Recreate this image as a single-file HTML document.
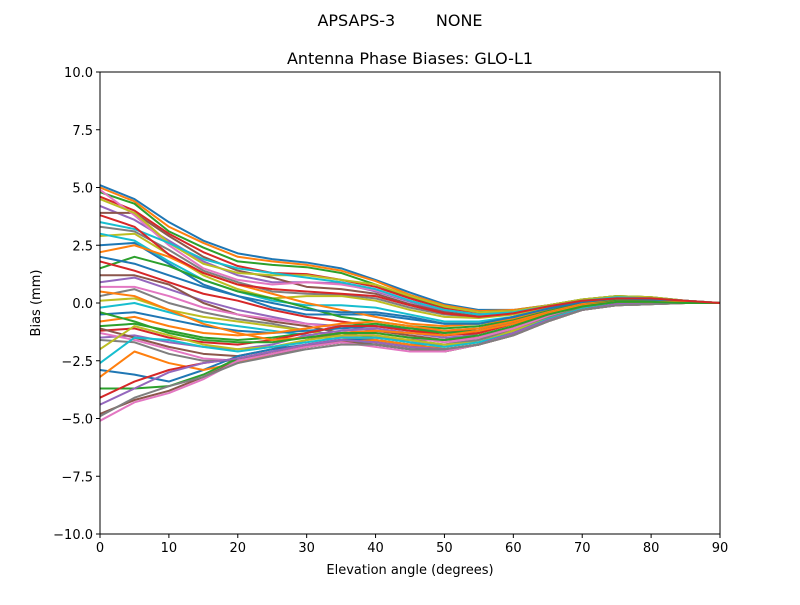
<!DOCTYPE html>
<html><head><meta charset="utf-8"><style>
body{margin:0;background:#fff;font-family:"Liberation Sans","DejaVu Sans",sans-serif}
svg text{font-family:"DejaVu Sans","Liberation Sans",sans-serif}
</style></head><body>
<svg id="chart" width="800" height="600" xmlns="http://www.w3.org/2000/svg">
<rect width="800" height="600" fill="#fff"/>
<text x="400" y="26" text-anchor="middle" font-size="16" xml:space="preserve">APSAPS-3        NONE</text>
<text x="410" y="64" text-anchor="middle" font-size="16">Antenna Phase Biases: GLO-L1</text>
<g id="lines"></g>
<rect x="100" y="72" width="620" height="462" fill="none" stroke="#000" stroke-width="1"/>
<g id="axes"></g>
<text x="410" y="574" text-anchor="middle" font-size="13">Elevation angle (degrees)</text>
<text transform="translate(40,303) rotate(-90)" text-anchor="middle" font-size="13">Bias (mm)</text>
</svg>
<script>
const elevations=[0,5,10,15,20,25,30,35,40,45,50,55,60,65,70,75,80,85,90];
const xTicks=[0,10,20,30,40,50,60,70,80,90];
const yTicks=[10,7.5,5,2.5,0,-2.5,-5,-7.5,-10];
const yTickLabels=["10.0","7.5","5.0","2.5","0.0","\u22122.5","\u22125.0","\u22127.5","\u221210.0"];
const series=[
[5.1,4.5,3.5,2.7,2.15,1.9,1.75,1.5,1.0,0.45,-0.05,-0.3,-0.3,-0.1,0.15,0.3,0.25,0.1,0],
[5.0,4.4,3.3,2.6,2.0,1.8,1.65,1.4,0.95,0.35,-0.1,-0.35,-0.3,-0.1,0.15,0.3,0.25,0.1,0],
[4.8,4.3,3.1,2.4,1.8,1.65,1.55,1.3,0.8,0.25,-0.2,-0.4,-0.35,-0.1,0.15,0.3,0.25,0.1,0],
[4.6,4.0,3.0,2.2,1.6,1.3,1.25,1.0,0.7,0.2,-0.25,-0.45,-0.35,-0.1,0.1,0.25,0.2,0.1,0],
[4.2,3.6,2.7,1.8,1.2,0.9,0.9,0.85,0.5,0.05,-0.35,-0.5,-0.4,-0.1,0.1,0.25,0.2,0.1,0],
[3.9,3.9,2.9,2.0,1.4,1.1,0.7,0.6,0.4,-0.05,-0.4,-0.55,-0.45,-0.15,0.1,0.25,0.2,0.1,0],
[4.9,3.8,2.5,1.5,1.0,0.8,0.9,0.8,0.55,0.1,-0.3,-0.5,-0.4,-0.1,0.1,0.25,0.2,0.1,0],
[3.3,3.1,2.3,1.4,0.9,0.5,0.4,0.35,0.2,-0.2,-0.5,-0.6,-0.5,-0.2,0.05,0.2,0.2,0.1,0],
[2.9,3.0,2.1,1.2,0.6,0.2,0.3,0.3,0.1,-0.3,-0.6,-0.65,-0.5,-0.2,0.05,0.2,0.15,0.05,0],
[3.0,2.7,1.8,1.0,0.5,0.1,-0.1,-0.1,-0.2,-0.5,-0.8,-0.8,-0.6,-0.25,0.05,0.2,0.15,0.05,0],
[2.5,2.6,1.7,0.8,0.3,-0.2,-0.5,-0.5,-0.5,-0.7,-0.9,-0.9,-0.65,-0.3,0,0.15,0.15,0.05,0],
[2.2,2.5,2.0,1.3,0.8,0.4,0.0,-0.3,-0.6,-0.9,-1.0,-0.9,-0.7,-0.3,0,0.15,0.15,0.05,0],
[1.5,2.0,1.6,1.0,0.5,0.2,-0.2,-0.6,-0.8,-1.0,-1.1,-1.0,-0.75,-0.35,0,0.15,0.1,0.05,0],
[1.8,1.4,0.9,0.4,0.1,-0.3,-0.6,-0.8,-1.0,-1.2,-1.3,-1.1,-0.8,-0.4,-0.05,0.1,0.1,0.05,0],
[0.9,1.1,0.6,0.1,-0.3,-0.6,-0.9,-1.0,-1.2,-1.3,-1.4,-1.2,-0.85,-0.45,-0.1,0.1,0.1,0.05,0],
[1.2,1.2,0.8,0.0,-0.5,-0.8,-1.0,-1.3,-1.5,-1.6,-1.6,-1.3,-0.9,-0.5,-0.1,0.05,0.05,0.05,0],
[0.7,0.7,0.3,-0.2,-0.5,-0.7,-0.9,-1.1,-1.4,-1.7,-1.8,-1.5,-1.0,-0.55,-0.15,0.05,0.05,0,0],
[0.3,0.6,0.0,-0.4,-0.7,-0.9,-1.2,-1.4,-1.6,-1.8,-1.8,-1.6,-1.1,-0.6,-0.2,0,0.05,0,0],
[0.1,0.2,-0.3,-0.6,-0.8,-1.0,-1.2,-1.5,-1.7,-1.9,-1.9,-1.7,-1.3,-0.7,-0.25,-0.05,0,0,0],
[-0.2,0.0,-0.4,-0.8,-1.0,-1.2,-1.4,-1.6,-1.8,-2.0,-2.0,-1.8,-1.4,-0.8,-0.3,-0.1,-0.05,0,0],
[-0.5,-0.4,-0.7,-1.0,-1.2,-1.3,-1.2,-1.1,-1.0,-1.1,-1.2,-1.1,-0.8,-0.4,-0.05,0.1,0.1,0.05,0],
[-0.8,-0.6,-1.0,-1.3,-1.4,-1.3,-1.1,-0.9,-0.8,-1.0,-1.2,-1.1,-0.8,-0.4,-0.05,0.1,0.1,0.05,0],
[-1.0,-0.9,-1.2,-1.5,-1.6,-1.5,-1.3,-1.0,-0.9,-1.1,-1.3,-1.2,-0.9,-0.45,-0.1,0.1,0.1,0.05,0],
[-1.2,-1.1,-1.5,-1.7,-1.8,-1.6,-1.3,-1.0,-1.0,-1.2,-1.4,-1.3,-0.9,-0.5,-0.1,0.05,0.05,0.05,0],
[-1.5,-1.4,-1.7,-1.9,-2.0,-1.8,-1.4,-1.2,-1.1,-1.3,-1.5,-1.4,-1.0,-0.5,-0.15,0.05,0.05,0,0],
[-1.1,-1.5,-1.9,-2.2,-2.3,-2.0,-1.6,-1.3,-1.2,-1.4,-1.6,-1.5,-1.1,-0.6,-0.2,0,0.05,0,0],
[-1.3,-1.6,-2.0,-2.4,-2.5,-2.2,-1.8,-1.5,-1.3,-1.5,-1.7,-1.5,-1.1,-0.6,-0.2,0,0,0,0],
[-1.6,-1.7,-2.2,-2.5,-2.5,-2.3,-1.9,-1.6,-1.5,-1.6,-1.8,-1.6,-1.2,-0.65,-0.2,0,0,0,0],
[-2.0,-1.0,-1.4,-1.8,-2.0,-1.9,-1.6,-1.4,-1.4,-1.6,-1.8,-1.7,-1.2,-0.7,-0.25,-0.05,0,0,0],
[-2.6,-1.5,-1.6,-1.9,-2.1,-1.9,-1.7,-1.5,-1.5,-1.7,-1.9,-1.7,-1.3,-0.7,-0.25,-0.05,0,0,0],
[-2.9,-3.1,-3.4,-2.9,-2.3,-2.0,-1.8,-1.6,-1.6,-1.8,-2.0,-1.8,-1.3,-0.75,-0.3,-0.05,0,0,0],
[-3.2,-2.1,-2.6,-2.9,-2.6,-2.2,-1.9,-1.7,-1.6,-1.8,-2.0,-1.8,-1.4,-0.8,-0.3,-0.1,-0.05,0,0],
[-3.7,-3.7,-3.6,-3.1,-2.4,-2.2,-1.9,-1.7,-1.8,-2.0,-2.1,-1.8,-1.4,-0.8,-0.3,-0.1,-0.05,0,0],
[-4.1,-3.4,-2.9,-2.6,-2.4,-2.1,-1.8,-1.6,-1.7,-1.9,-2.0,-1.8,-1.3,-0.75,-0.3,-0.05,0,0,0],
[-4.4,-3.7,-3.0,-2.6,-2.4,-2.1,-1.8,-1.6,-1.7,-1.9,-2.0,-1.8,-1.3,-0.75,-0.3,-0.05,0,0,0],
[-4.8,-4.2,-3.8,-3.2,-2.5,-2.2,-1.9,-1.7,-1.8,-2.0,-2.1,-1.8,-1.4,-0.8,-0.3,-0.1,-0.05,0,0],
[-5.1,-4.3,-3.9,-3.3,-2.5,-2.2,-1.9,-1.7,-1.9,-2.1,-2.1,-1.8,-1.4,-0.8,-0.3,-0.1,-0.05,0,0],
[-4.9,-4.1,-3.6,-3.2,-2.6,-2.3,-2.0,-1.8,-1.8,-2.0,-2.0,-1.8,-1.4,-0.8,-0.3,-0.1,-0.05,0,0],
[4.5,3.9,2.6,1.7,1.3,1.2,1.2,1.0,0.8,0.3,-0.15,-0.4,-0.35,-0.1,0.15,0.3,0.25,0.1,0],
[3.5,3.2,2.6,1.9,1.5,1.3,1.1,0.9,0.6,0.1,-0.3,-0.5,-0.4,-0.15,0.1,0.25,0.2,0.1,0],
[2.0,1.7,1.2,0.7,0.3,0.0,-0.3,-0.4,-0.4,-0.6,-0.9,-0.9,-0.6,-0.25,0.05,0.2,0.15,0.05,0],
[0.5,0.3,-0.3,-0.9,-1.3,-1.6,-1.5,-1.3,-1.2,-1.3,-1.4,-1.2,-0.9,-0.45,-0.1,0.05,0.05,0.05,0],
[-0.4,-0.8,-1.3,-1.6,-1.7,-1.7,-1.5,-1.3,-1.3,-1.5,-1.6,-1.4,-1.0,-0.5,-0.15,0.05,0.05,0,0],
[3.8,3.3,2.1,1.3,0.8,0.6,0.5,0.4,0.3,-0.1,-0.45,-0.6,-0.45,-0.15,0.1,0.2,0.2,0.1,0]
];
const colors=["#1f77b4","#ff7f0e","#2ca02c","#d62728","#9467bd","#8c564b","#e377c2","#7f7f7f","#bcbd22","#17becf"];
const X0=100,X1=720,Y0=534,Y1=72;
function xs(v){return X0+(v-0)/(90-0)*(X1-X0);}
function ys(v){return Y0-(v+10)/20*(Y0-Y1);}
const NS="http://www.w3.org/2000/svg";
const g=document.getElementById('lines');
series.forEach((s,i)=>{
  const p=document.createElementNS(NS,'polyline');
  p.setAttribute('points',s.map((v,j)=>xs(elevations[j])+','+ys(v)).join(' '));
  p.setAttribute('fill','none');
  p.setAttribute('stroke',colors[i%10]);
  p.setAttribute('stroke-width','2');
  p.setAttribute('stroke-linejoin','round');
  
  
  g.appendChild(p);
});
const ax=document.getElementById('axes');
xTicks.forEach(t=>{
  const l=document.createElementNS(NS,'line');
  l.setAttribute('x1',xs(t));l.setAttribute('x2',xs(t));l.setAttribute('y1',Y0);l.setAttribute('y2',Y0+4);l.setAttribute('stroke','#000');
  
  
  ax.appendChild(l);
  const tx=document.createElementNS(NS,'text');
  tx.setAttribute('x',xs(t));tx.setAttribute('y',Y0+18);tx.setAttribute('text-anchor','middle');tx.setAttribute('font-size','13');
  tx.textContent=t;
  
  
  ax.appendChild(tx);
});
yTicks.forEach((t,i)=>{
  const l=document.createElementNS(NS,'line');
  l.setAttribute('x1',X0-4);l.setAttribute('x2',X0);l.setAttribute('y1',ys(t));l.setAttribute('y2',ys(t));l.setAttribute('stroke','#000');
  
  
  ax.appendChild(l);
  const tx=document.createElementNS(NS,'text');
  tx.setAttribute('x',X0-7);tx.setAttribute('y',ys(t)+5);tx.setAttribute('text-anchor','end');tx.setAttribute('font-size','13');
  tx.textContent=yTickLabels[i];
  
  
  ax.appendChild(tx);
});
</script>
</body></html>
